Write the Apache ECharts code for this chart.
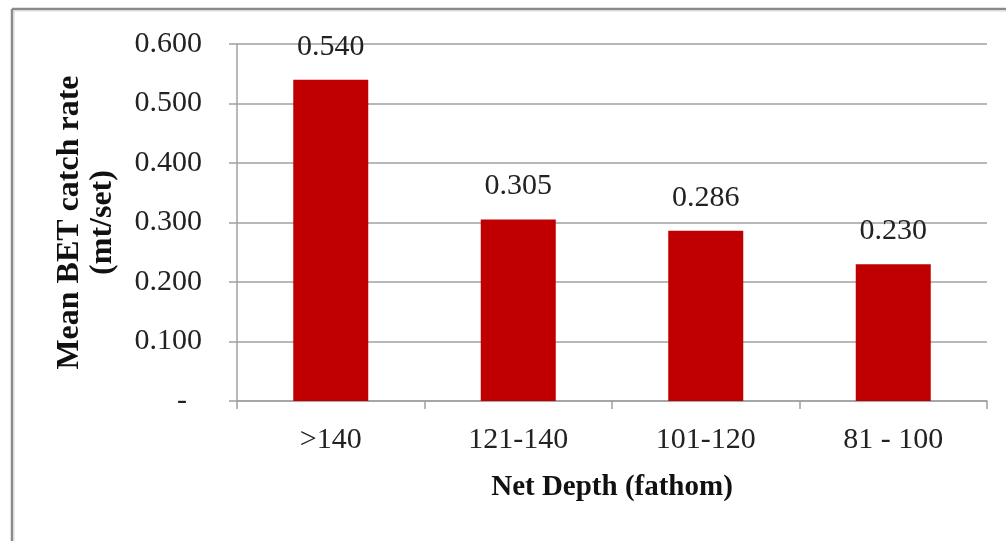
<!DOCTYPE html>
<html>
<head>
<meta charset="utf-8">
<script src="https://cdn.jsdelivr.net/npm/echarts@6/dist/echarts.min.js"></script>
<style>
html,body{margin:0;padding:0;background:#fff;}
#c{width:1006px;height:541px;}
</style>
</head>
<body>
<div id="c"></div>
<script>
var categories = ['>140', '121-140', '101-120', '81 - 100'];
var catchRates = [0.540, 0.305, 0.286, 0.230];
var yTicks = [0, 0.1, 0.2, 0.3, 0.4, 0.5, 0.6];

var FONT = '"Liberation Serif", "Times New Roman", serif';
var chart = echarts.init(document.getElementById('c'), null, {renderer: 'canvas'});
chart.setOption({
  animation: false,
  backgroundColor: '#fff',
  graphic: [
    {type: 'line', shape: {x1: 12, y1: 9, x2: 1006, y2: 9}, style: {stroke: '#8a8a8a', lineWidth: 2.5}, z: 100},
    {type: 'line', shape: {x1: 12, y1: 9, x2: 12, y2: 541}, style: {stroke: '#8a8a8a', lineWidth: 2.5}, z: 100},
    {type: 'line', shape: {x1: 14, y1: 11, x2: 1006, y2: 11}, style: {stroke: '#d8d8d8', lineWidth: 1.2}, z: 100},
    {type: 'line', shape: {x1: 14, y1: 11, x2: 14, y2: 541}, style: {stroke: '#d8d8d8', lineWidth: 1.2}, z: 100}
  ],
  grid: {left: 237, right: 19, top: 44, bottom: 140, containLabel: false},
  xAxis: {
    type: 'category',
    data: categories,
    name: 'Net Depth (fathom)',
    nameLocation: 'middle',
    nameGap: 72,
    nameTextStyle: {fontFamily: FONT, fontSize: 29, fontWeight: 'bold', color: '#111'},
    axisLine: {show: true, lineStyle: {color: '#a0a0a0', width: 1.5}},
    axisTick: {show: true, length: 8, alignWithLabel: false, lineStyle: {color: '#a0a0a0', width: 1.5}},
    axisLabel: {fontFamily: FONT, fontSize: 30, color: '#222', margin: 24}
  },
  yAxis: {
    type: 'value',
    min: 0,
    max: 0.6,
    interval: 0.1,
    name: 'Mean BET catch rate\n(mt/set)',
    nameLocation: 'middle',
    nameGap: 118,
    nameRotate: 90,
    nameTextStyle: {fontFamily: FONT, fontSize: 32, fontWeight: 'bold', color: '#111', lineHeight: 33},
    axisLine: {show: true, lineStyle: {color: '#a0a0a0', width: 1.5}},
    axisTick: {show: true, length: 8, lineStyle: {color: '#a0a0a0', width: 1.5}},
    splitLine: {show: true, lineStyle: {color: '#a0a0a0', width: 1.5}},
    axisLabel: {
      fontFamily: FONT, fontSize: 30, color: '#222', margin: 35,
      formatter: function (v) {
        var t = yTicks.filter(function (k) { return Math.abs(k - v) < 1e-9; });
        if (Math.abs(v) < 1e-9) return '-\u2002';
        return (t.length ? t[0] : v).toFixed(3);
      }
    }
  },
  series: [{
    type: 'bar',
    data: catchRates,
    barWidth: '40%',
    itemStyle: {color: '#C00000'},
    label: {
      show: true,
      position: 'top',
      distance: 18,
      fontFamily: FONT,
      fontSize: 30,
      color: '#222',
      formatter: function (p) { return p.value.toFixed(3); }
    }
  }]
});
</script>
</body>
</html>
